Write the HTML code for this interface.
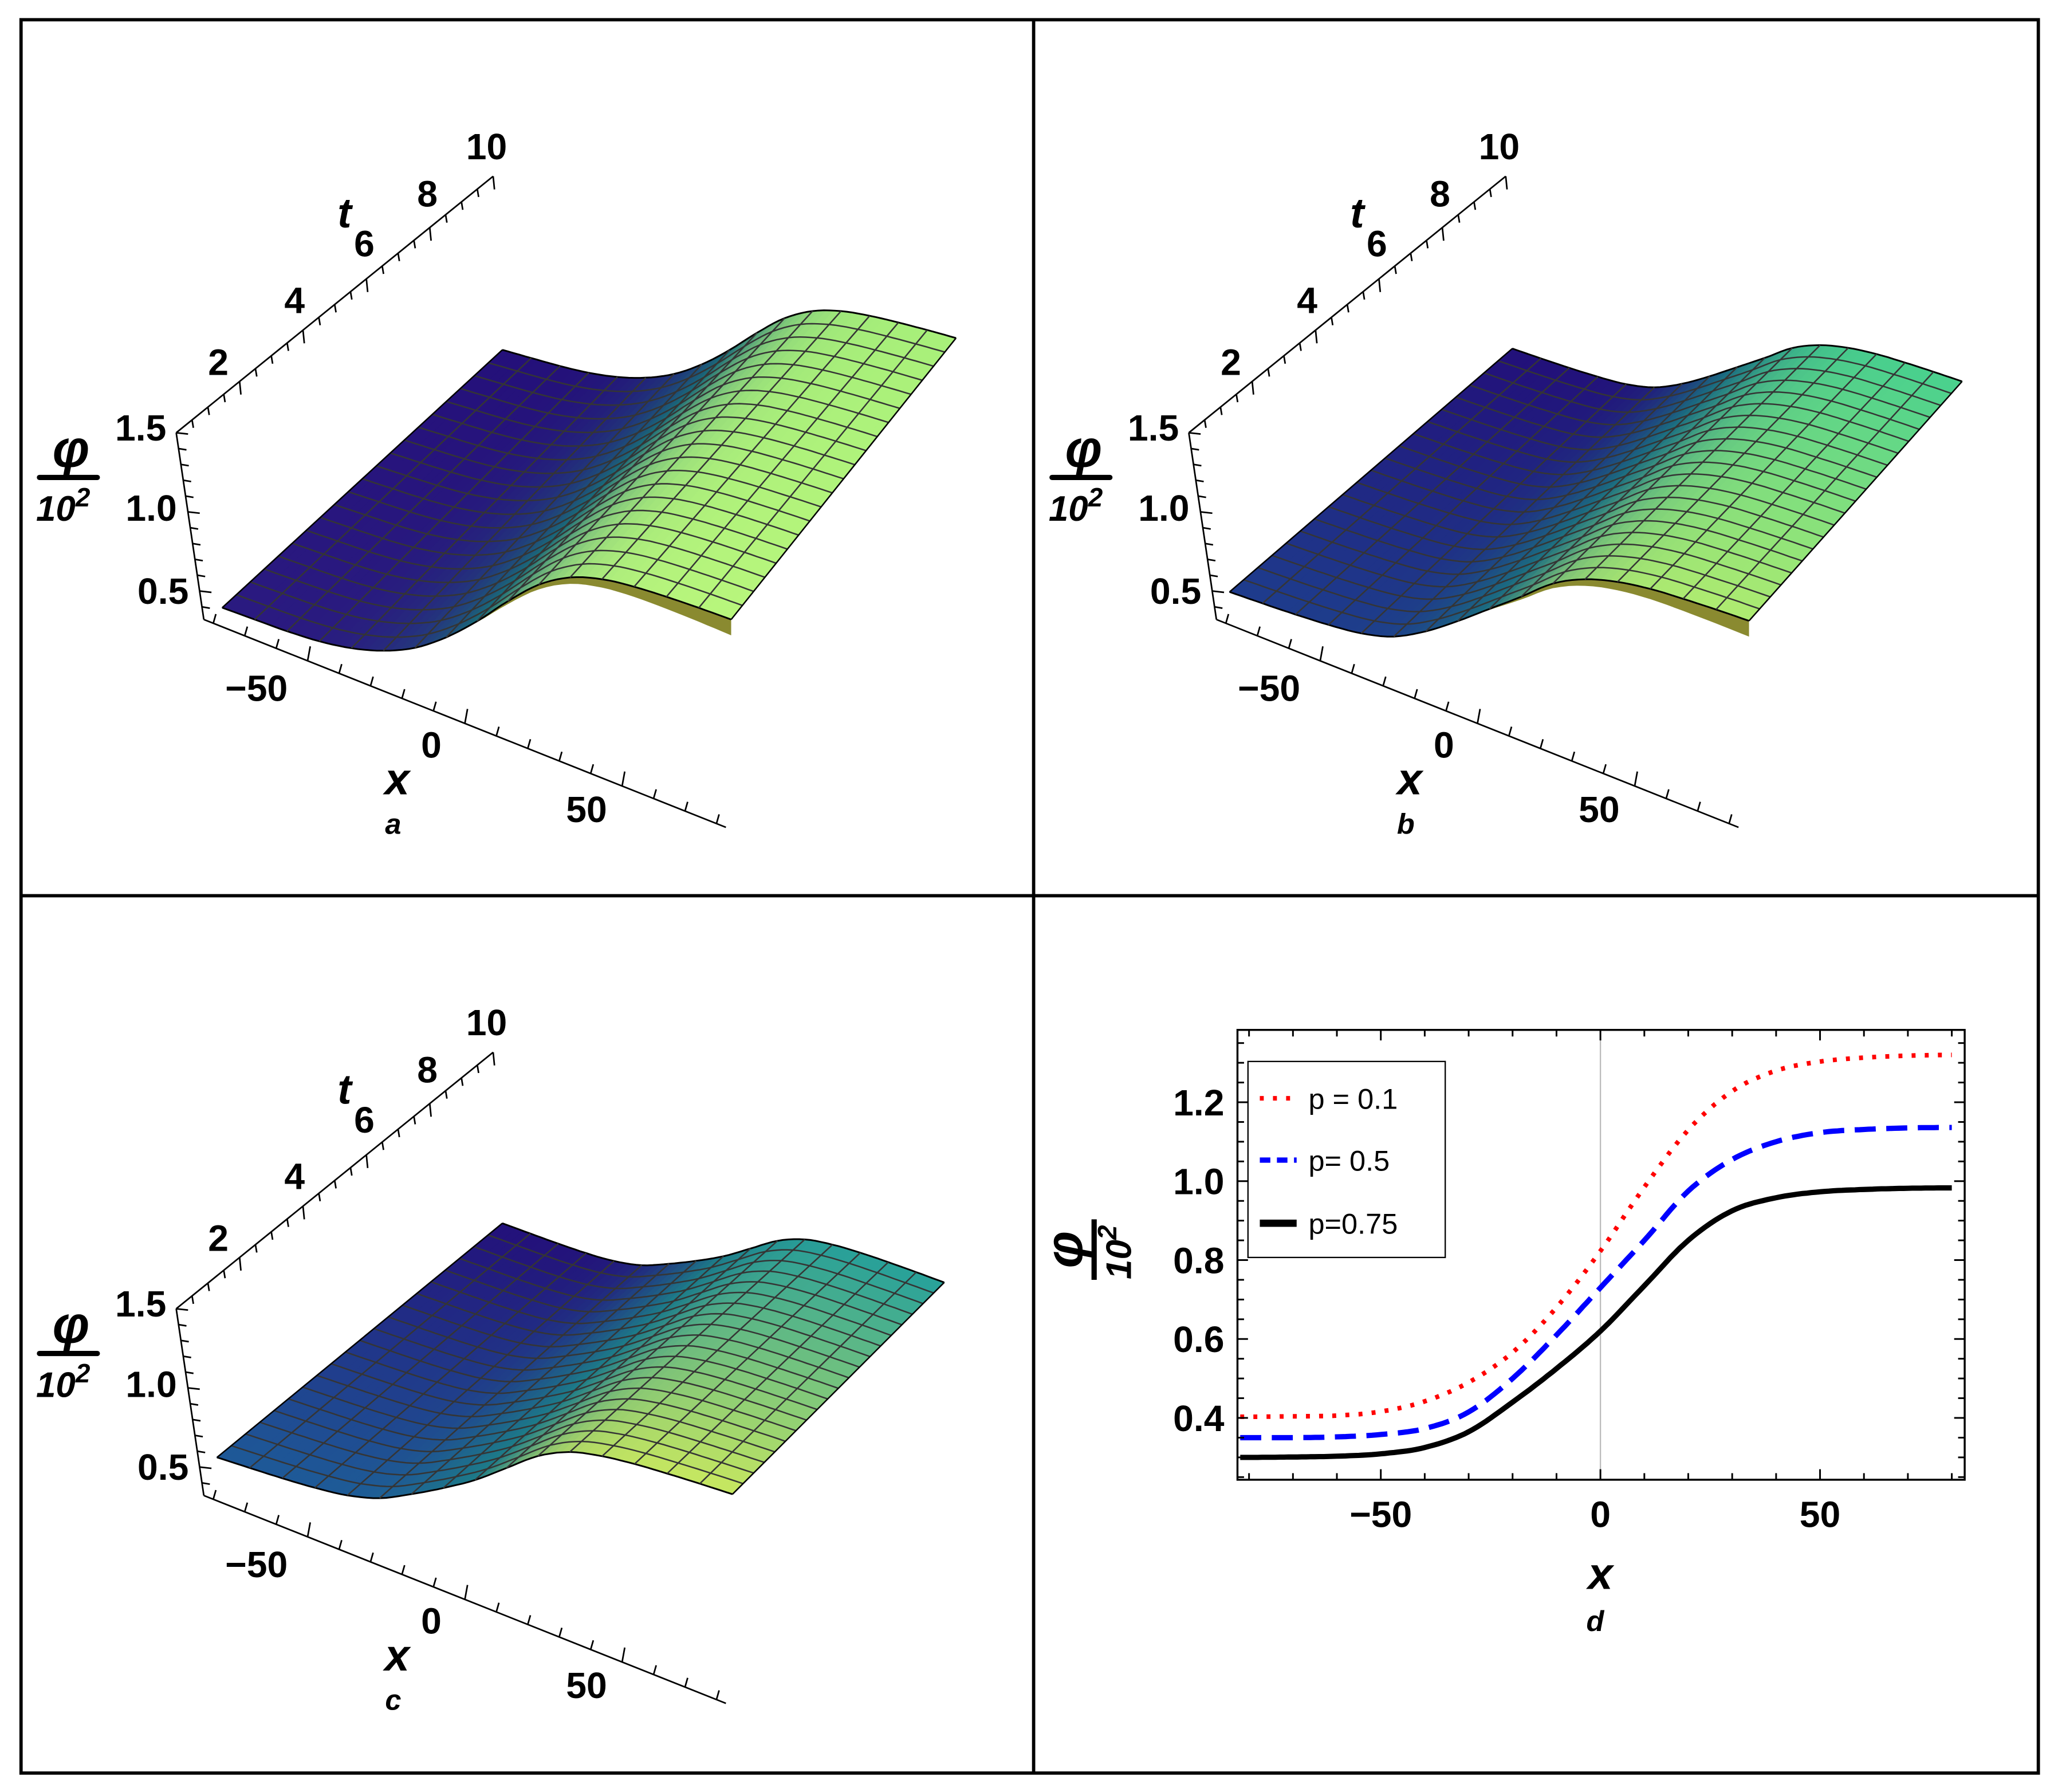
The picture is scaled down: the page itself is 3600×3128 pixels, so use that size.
<!DOCTYPE html>
<html><head><meta charset="utf-8">
<style>
html,body{margin:0;padding:0;background:#fff;}
svg{display:block;}
text{font-family:"Liberation Sans",sans-serif;fill:#000;}
.tk{font-weight:bold;font-size:28px;}
</style></head>
<body>
<svg id="fig" width="3600" height="3128" viewBox="0 0 1568 1362.4" preserveAspectRatio="none" xmlns="http://www.w3.org/2000/svg">
<rect x="16" y="15" width="1534" height="1333" fill="#fff" stroke="#000" stroke-width="2.5"/>
<line x1="786" y1="15" x2="786" y2="1348" stroke="#000" stroke-width="2.5"/>
<line x1="16" y1="681" x2="1550" y2="681" stroke="#000" stroke-width="2.5"/>
<g id="panels"></g>
</svg>
<script>
// ---- data ----
const xs = [-80,-70,-60,-50,-40,-30,-20,-10,0,10,20,30,40,50,60,70,80];
const phiP01 = [0.403,0.404,0.406,0.416,0.442,0.49,0.566,0.68,0.823,0.985,1.13,1.228,1.28,1.303,1.313,1.318,1.32];
const phiP05 = [0.35,0.35,0.352,0.358,0.373,0.415,0.5,0.61,0.73,0.85,0.975,1.055,1.1,1.123,1.131,1.135,1.136];
const phiP075 = [0.30,0.301,0.303,0.309,0.325,0.365,0.44,0.525,0.62,0.735,0.85,0.925,0.958,0.973,0.979,0.982,0.983];
const legendLabels = ["p = 0.1","p= 0.5","p=0.75"];
const xTicks = [-50,0,50];
const yTicks = [0.4,0.6,0.8,1.0,1.2];
const tTicks = [2,4,6,8,10];
const phiTicks = [0.5,1.0,1.5];

const NS="http://www.w3.org/2000/svg";
const root=document.getElementById('panels');
function mk(tag,attrs,parent){const e=document.createElementNS(NS,tag);for(const k in attrs)e.setAttribute(k,attrs[k]);(parent||root).appendChild(e);return e;}

function interp(x,ys){
  const n=xs.length;
  if(x<=xs[0])return ys[0]; if(x>=xs[n-1])return ys[n-1];
  let i=0;while(xs[i+1]<x)i++;
  const h=xs[i+1]-xs[i],s=(x-xs[i])/h;
  const y0=ys[Math.max(i-1,0)],y1=ys[i],y2=ys[i+1],y3=ys[Math.min(i+2,n-1)];
  const m1=(y2-y0)/2,m2=(y3-y1)/2;
  const s2=s*s,s3=s2*s;
  return (2*s3-3*s2+1)*y1+(s3-2*s2+s)*m1+(-2*s3+3*s2)*y2+(s3-s2)*m2;
}
function hex(c){return [parseInt(c.slice(1,3),16),parseInt(c.slice(3,5),16),parseInt(c.slice(5,7),16)];}
function lerpC(a,b,f){return a.map((v,i)=>v+(b[i]-v)*f);}
function rgb(c){return 'rgb('+c.map(v=>Math.round(v)).join(',')+')';}

const panelDefs=[
 {id:'a',dx:0,dy:0,ys:phiP01,FL:[169,462],FR:[556,471],BL:[382,266],BR:[727,257],wall:true,
  cols:{lb:'#24107a',lf:'#2a1a80',m:'#1a6a78',hb:'#a8f07a',hf:'#b8f67c'}},
 {id:'b',dx:770,dy:0,ys:phiP05,FL:[935,450],FR:[1330,472],BL:[1150,265],BR:[1492,290],wall:true,
  cols:{lb:'#22107a',lf:'#1e3c8c',m:'#1b6c80',hb:'#48d08e',hf:'#b0ec70'}},
 {id:'c',dx:0,dy:666,ys:phiP075,FL:[165,1108],FR:[557,1136],BL:[382,930],BR:[718,975],wall:false,
  cols:{lb:'#23107a',lf:'#1e5a98',m:'#1d7a88',hb:'#26a09a',hf:'#c8e860'}}
];
const kF=150,kB=120;
panelDefs.forEach(P=>{
  const g=mk('g',{});
  
  
  const ys=P.ys,p0=ys[0],pN=ys[ys.length-1],span=pN-p0;
  const FRb=[P.FR[0]+span*8*kF/150,P.FR[1]+span*kF];
  const BRb=[P.BR[0]+span*8*kB/150,P.BR[1]+span*kB];
  function S(x,t,phi){
    const u=(x+80)/160,v=t/10;
    const fx=P.FL[0]+(FRb[0]-P.FL[0])*u, fy=P.FL[1]+(FRb[1]-P.FL[1])*u;
    const bx=P.BL[0]+(BRb[0]-P.BL[0])*u, by=P.BL[1]+(BRb[1]-P.BL[1])*u;
    const k=kF*(1-v)+kB*v;
    const d=phi-p0;
    return [fx+(bx-fx)*v - d*8*k/150, fy+(by-fy)*v - d*k];
  }
  const C={};for(const k in P.cols)C[k]=hex(P.cols[k]);
  function col(phi,t){
    const n=(phi-p0)/span,v=t/10;
    const lo=lerpC(C.lf,C.lb,v),hi=lerpC(C.hf,C.hb,v);
    if(n<0.45)return rgb(lerpC(lo,C.m,n/0.45));
    return rgb(lerpC(C.m,hi,Math.min(1,(n-0.45)/0.55)));
  }
  if(P.wall){
    let pts=[],back=[];
    for(let x=-5;x<=80;x+=2.5){const p=S(x,0,interp(x,ys));pts.push(p);back.push([p[0],p[1]+12*(x+5)/85]);}
    back.reverse();
    const w=mk('polygon',{points:pts.concat(back).map(p=>p[0].toFixed(1)+','+p[1].toFixed(1)).join(' '),fill:'#8a8a30'},g);
    
  }
  const dxs=2.5,dt=0.5;
  const surf=mk('g',{},g);
  
  
  for(let t=10-dt;t>=-1e-9;t-=dt){
    for(let x=-80;x<80-1e-9;x+=dxs){
      const a=interp(x,ys),b=interp(x+dxs,ys),tm=t+dt/2;
      const pts=[S(x,t,a),S(x+dxs,t,b),S(x+dxs,t+dt,b),S(x,t+dt,a)];
      const c=col((a+b)/2,tm);
      mk('polygon',{points:pts.map(p=>p[0].toFixed(1)+','+p[1].toFixed(1)).join(' '),fill:c,stroke:c,'stroke-width':0.6},surf);
    }
  }
  for(let t=0;t<=10+1e-9;t+=0.5){
    let d='';for(let x=-80;x<=80;x+=2){const p=S(x,t,interp(x,ys));d+=(d?'L':'M')+p[0].toFixed(1)+','+p[1].toFixed(1);}
    const edge=(t===0||t>=10);
    const ln=mk('path',{d:d,fill:'none',stroke:edge?'#000':'#353535','stroke-width':edge?1.3:1.1},g);
    
    
  }
  for(let x=-80;x<=80;x+=10){
    const ph=interp(x,ys);const a=S(x,0,ph),b=S(x,10,ph);
    const ln=mk('line',{x1:a[0],y1:a[1],x2:b[0],y2:b[1],stroke:(x===-80||x===80)?'#000':'#353535','stroke-width':1.1},g);
    
    
  }
  const ox=P.dx,oy=P.dy;
  const ax=mk('g',{stroke:'#000','stroke-width':1.2,fill:'none'},g);
  
  
  const phiTop=[134+ox,329+oy],phiBot=[155+ox,471+oy];
  const phiToPt=v=>{const f=(1.5-v)/(1.5-0.32);return [phiTop[0]+(phiBot[0]-phiTop[0])*f,phiTop[1]+(phiBot[1]-phiTop[1])*f];};
  mk('line',{x1:phiTop[0],y1:phiTop[1],x2:phiBot[0],y2:phiBot[1]},ax);
  for(let v=0.4;v<=1.5001;v+=0.1){const p=phiToPt(v);const maj=Math.abs(v*2-Math.round(v*2))<1e-6;mk('line',{x1:p[0],y1:p[1],x2:p[0]+(maj?9:6),y2:p[1]+1},ax);}
  const tA=[134+ox,329+oy],tB=[375+ox,134+oy];
  const tToPt=v=>[tA[0]+(tB[0]-tA[0])*v/10,tA[1]+(tB[1]-tA[1])*v/10];
  mk('line',{x1:tA[0],y1:tA[1],x2:tB[0],y2:tB[1]},ax);
  for(let v=0.5;v<=10.001;v+=0.5){const p=tToPt(v);const maj=Math.abs(v/2-Math.round(v/2))<1e-6;mk('line',{x1:p[0],y1:p[1],x2:p[0]+1,y2:p[1]+(maj?10:6)},ax);}
  const xA=[155+ox,471+oy],xB=[552+ox,629+oy];
  const xToPt=v=>{const f=(v+83)/166;return [xA[0]+(xB[0]-xA[0])*f,xA[1]+(xB[1]-xA[1])*f];};
  mk('line',{x1:xA[0],y1:xA[1],x2:xB[0],y2:xB[1]},ax);
  for(let v=-80;v<=80;v+=10){const p=xToPt(v);const maj=v%50===0;mk('line',{x1:p[0],y1:p[1],x2:p[0]+2,y2:p[1]-(maj?11:7)},ax);}
  const tPos={2:[166,275],4:[224,228],6:[277,185],8:[325,147],10:[370,111]};
  tTicks.forEach(v=>{const e=mk('text',{x:tPos[v][0]+ox,y:tPos[v][1]+oy+10,'text-anchor':'middle',class:'tk'},g);e.textContent=v;
    });
  const phiPos={0.5:[124,449],1.0:[115,386],1.5:[107,325]};
  phiTicks.forEach(v=>{const e=mk('text',{x:phiPos[v][0]+ox,y:phiPos[v][1]+oy+10,'text-anchor':'middle',class:'tk'},g);e.textContent=v.toFixed(1);
    });
  const xPos={'-50':[195,523],'0':[328,566],'50':[446,615]};
  xTicks.forEach(v=>{const e=mk('text',{x:xPos[v][0]+ox,y:xPos[v][1]+oy+10,'text-anchor':'middle',class:'tk'},g);e.textContent=(v<0?'\u2212'+(-v):v);
    });
  let e=mk('text',{x:262+ox,y:173+oy,'text-anchor':'middle','font-size':32,'font-weight':'bold','font-style':'italic'},g);e.textContent='t';
  
  e=mk('text',{x:302+ox,y:604+oy,'text-anchor':'middle','font-size':34,'font-weight':'bold','font-style':'italic'},g);e.textContent='x';
  
  e=mk('text',{x:299+ox,y:634+oy,'text-anchor':'middle','font-size':22,'font-weight':'bold','font-style':'italic'},g);e.textContent=P.id;
  
  e=mk('text',{x:54+ox,y:355+oy,'text-anchor':'middle','font-size':40,'font-weight':'bold','font-style':'italic'},g);e.textContent='\u03c6';
  
  mk('line',{x1:30+ox,y1:363+oy,x2:74+ox,y2:363+oy,stroke:'#000','stroke-width':4,'stroke-linecap':'round'},g);
  e=mk('text',{x:48+ox,y:396+oy,'text-anchor':'middle','font-size':27,'font-weight':'bold','font-style':'italic'},g);e.innerHTML='10<tspan dy="-11" font-size="20">2</tspan>';
  
});

const L=941,R=1494,T=783,B=1125;
const X=v=>1217+v*3.34, Y=v=>838-(v-1.2)*300;
const gd=mk('g',{});


let zl=mk('line',{x1:X(0),y1:T,x2:X(0),y2:B,stroke:'#bbb','stroke-width':1},gd);

const series=[{ys:phiP01,c:'#ff0000',da:'3 7',w:3.5,n:'series-p-0.1'},{ys:phiP05,c:'#0000ff',da:'16 8',w:4,n:'series-p-0.5'},{ys:phiP075,c:'#000',da:'',w:4,n:'series-p-0.75'}];
series.forEach(s=>{
  let d='';for(let x=-82;x<=80.01;x+=1){const xv=Math.max(x,-80);d+=(d?'L':'M')+X(x).toFixed(1)+','+Y(interp(xv,s.ys)).toFixed(1);}
  const p=mk('path',{d:d,fill:'none',stroke:s.c,'stroke-width':s.w,'stroke-dasharray':s.da},gd);
  
});
let fr=mk('rect',{x:L,y:T,width:R-L,height:B-T,fill:'none',stroke:'#000','stroke-width':1.5},gd);

for(let v=-80;v<=80;v+=10){const maj=v%50===0,l=maj?8:5;
  mk('line',{x1:X(v),y1:B,x2:X(v),y2:B-l,stroke:'#000','stroke-width':1.3},gd);
  mk('line',{x1:X(v),y1:T,x2:X(v),y2:T+l,stroke:'#000','stroke-width':1.3},gd);}
for(let v=0.25;v<=1.38;v+=0.05){const maj=Math.abs(v*5-Math.round(v*5))<1e-6,l=maj?8:5;
  mk('line',{x1:L,y1:Y(v),x2:L+l,y2:Y(v),stroke:'#000','stroke-width':1.3},gd);
  mk('line',{x1:R,y1:Y(v),x2:R-l,y2:Y(v),stroke:'#000','stroke-width':1.3},gd);}
xTicks.forEach(v=>{const e=mk('text',{x:X(v),y:1161,'text-anchor':'middle',class:'tk'},gd);e.textContent=(v<0?'\u2212'+(-v):v);
  });
yTicks.forEach(v=>{const e=mk('text',{x:931,y:Y(v)+10,'text-anchor':'end',class:'tk'},gd);e.textContent=v.toFixed(1);
  });
let t1=mk('text',{x:1217,y:1208,'text-anchor':'middle','font-size':34,'font-weight':'bold','font-style':'italic'},gd);t1.textContent='x';

t1=mk('text',{x:1213,y:1240,'text-anchor':'middle','font-size':22,'font-weight':'bold','font-style':'italic'},gd);t1.textContent='d';

const yl=mk('g',{transform:'translate(828,950) rotate(-90)'},gd);

mk('text',{x:0,y:-5,'text-anchor':'middle','font-size':40,'font-weight':'bold','font-style':'italic'},yl).textContent='\u03c6';
mk('line',{x1:-23,y1:4,x2:23,y2:4,stroke:'#000','stroke-width':4},yl);
mk('text',{x:-2,y:32,'text-anchor':'middle','font-size':27,'font-weight':'bold','font-style':'italic'},yl).innerHTML='10<tspan dy="-11" font-size="20">2</tspan>';
const lg=mk('g',{},gd);

mk('rect',{x:949,y:807,width:150,height:149,fill:'#fff',stroke:'#000','stroke-width':1},lg);
const ly=[835,882,930];
series.forEach((s,i)=>{
  const ent=mk('g',{},lg);
  
  mk('line',{x1:958,y1:ly[i],x2:986,y2:ly[i],stroke:s.c,'stroke-width':s.w+(i===2?1.5:0),'stroke-dasharray':i===0?'3 7':(i===1?'8 5':'')},ent);
  mk('text',{x:995,y:ly[i]+8,'font-size':22},ent).textContent=legendLabels[i];
});
</script>
</body></html>
